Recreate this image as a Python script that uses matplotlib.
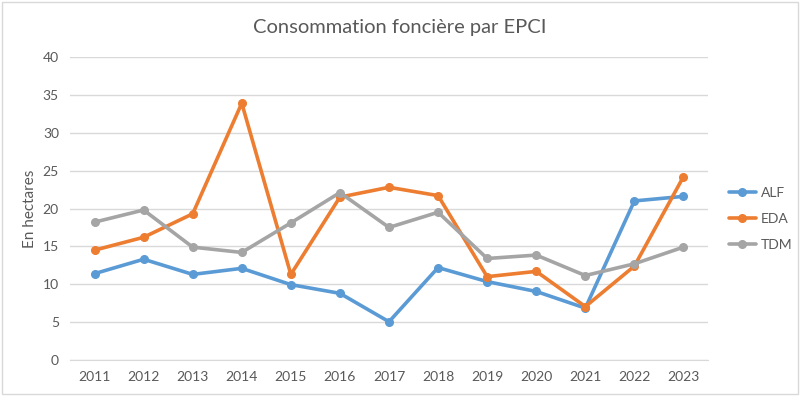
import matplotlib.pyplot as plt
from matplotlib.patches import Rectangle

years = ['2011', '2012', '2013', '2014', '2015', '2016', '2017',
         '2018', '2019', '2020', '2021', '2022', '2023']
alf = [11.4, 13.3, 11.3, 12.1, 9.95, 8.8, 5.05, 12.2, 10.35, 9.05, 6.85, 21.0, 21.6]
eda = [14.5, 16.2, 19.3, 33.9, 11.3, 21.5, 22.8, 21.7, 11.0, 11.7, 7.05, 12.4, 24.2]
tdm = [18.2, 19.8, 14.9, 14.2, 18.1, 22.1, 17.5, 19.5, 13.4, 13.85, 11.15, 12.7, 14.9]

series = [('ALF', alf, '#5B9BD5'), ('EDA', eda, '#ED7D31'), ('TDM', tdm, '#A5A5A5')]

plt.rcParams['font.family'] = ['Lato', 'DejaVu Sans']

fig = plt.figure(figsize=(8, 3.96), dpi=100)
ax = fig.add_axes([70 / 800, 1 - 360 / 396, 638 / 800, 303 / 396])

x = list(range(len(years)))
for name, vals, col in series:
    ax.plot(x, vals, color=col, lw=2.6, marker='o', ms=5.5, label=name,
            solid_capstyle='round')

ax.set_xlim(-0.5, len(years) - 0.5)
ax.set_ylim(0, 40)
ax.set_yticks(range(0, 41, 5))
ax.set_xticks(x)
ax.set_xticklabels(years)
ax.yaxis.grid(True, color='#D9D9D9', lw=1)
ax.set_axisbelow(True)
for s in ['top', 'right', 'left']:
    ax.spines[s].set_visible(False)
ax.spines['bottom'].set_color('#D9D9D9')
ax.tick_params(length=0, colors='#595959', labelsize=10, pad=8)
ax.set_ylabel('En hectares', color='#595959', fontsize=11)
ax.yaxis.set_label_coords((37 - 70) / 638, 0.5)

fig.text(0.5, 1 - 27 / 396, 'Consommation foncière par EPCI', ha='center', va='center',
         fontsize=14.5, color='#595959')

fig.legend(loc='center left', bbox_to_anchor=(716 / 800, 1 - 219 / 396), frameon=False,
           fontsize=10, labelcolor='#595959', handlelength=2.0, handletextpad=0.35,
           labelspacing=1.0)

fig.patches.append(Rectangle((2 / 800, 2 / 396), 796 / 800, 392 / 396, transform=fig.transFigure,
                             fill=False, edgecolor='#D9D9D9', lw=1))

fig.savefig('out.png', dpi=100)
